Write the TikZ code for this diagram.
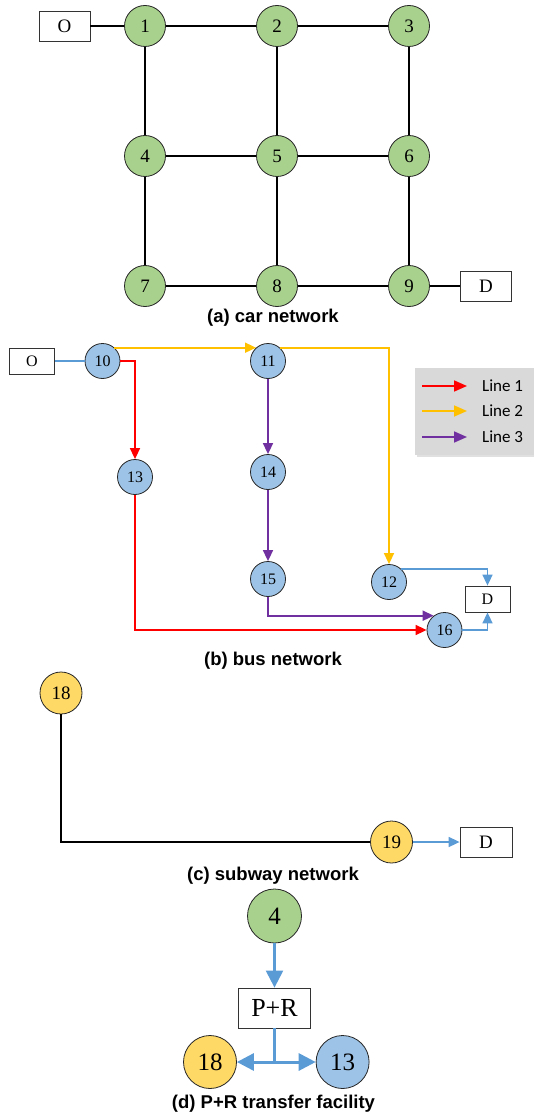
\documentclass[tikz,border=0pt]{standalone}
\usepackage{fontspec}
\setmainfont{Liberation Serif}
\newfontfamily\capfont{Liberation Sans}
\newfontfamily\legfont{Carlito}
\usetikzlibrary{arrows.meta}

\definecolor{cargreen}{HTML}{A9D18E}
\definecolor{busblue}{HTML}{9DC3E6}
\definecolor{subyellow}{HTML}{FFD966}
\definecolor{linkblue}{HTML}{5B9BD5}
\definecolor{lineone}{HTML}{FF0000}
\definecolor{linetwo}{HTML}{FFC000}
\definecolor{linethree}{HTML}{7030A0}
\definecolor{legendgray}{HTML}{D9D9D9}

\tikzset{
  station/.style={circle,draw=black!85,line width=0.8pt,inner sep=0pt},
  carstop/.style={station,fill=cargreen,minimum size=41pt,font=\fontsize{19}{19}\selectfont},
  busstop/.style={station,fill=busblue,minimum size=35pt,font=\fontsize{16}{16}\selectfont},
  substop/.style={station,fill=subyellow,minimum size=42pt,font=\fontsize{19}{19}\selectfont},
  bigstop/.style={station,minimum size=54pt,font=\fontsize{25}{25}\selectfont},
  endbox/.style={draw=black!80,line width=0.8pt,fill=white,inner sep=0pt,minimum width=51pt,minimum height=30pt,font=\fontsize{19}{19}\selectfont},
  road/.style={line width=1.6pt},
  arr/.style={-{Triangle[length=11pt,width=10pt]}},
  bigarr/.style={-{Triangle[length=17pt,width=17pt]}},
  figcap/.style={font=\capfont\bfseries\fontsize{18.5}{18.5}\selectfont}
}

\begin{document}
\begin{tikzpicture}[x=1pt,y=-1pt]
  \useasboundingbox (0,0) rectangle (534,1115);

  % (a) car network
  \foreach \n/\x/\y in {1/145/26,2/277/26,3/409/26,4/145/156,5/277/156,6/409/156,7/145/286,8/277/286,9/409/286}
    \node[carstop] (c\n) at (\x,\y) {\n};
  \node[endbox] (o1) at (64.5,26) {O};
  \node[endbox] (d1) at (486,286) {D};
  \foreach \a/\b in {1/2,2/3,4/5,5/6,7/8,8/9,1/4,4/7,2/5,5/8,3/6,6/9}
    \draw[road] (c\a) -- (c\b);
  \draw[road] (o1) -- (c1);
  \draw[road] (c9) -- (d1);
  \node[figcap] (capa) at (273,318) {(a) car network};

  % (b) bus network
  \node[endbox,minimum width=45pt,minimum height=26pt,font=\fontsize{16}{16}\selectfont] (o2) at (32,361) {O};
  \node[busstop] (b10) at (102.5,361) {10};
  \node[busstop] (b11) at (268,361) {11};
  \node[busstop] (b13) at (135,477) {13};
  \node[busstop] (b14) at (268,472) {14};
  \node[busstop] (b15) at (268,579) {15};
  \node[busstop] (b12) at (389,582) {12};
  \node[busstop] (b16) at (444.5,630) {16};
  \node[endbox,minimum width=45pt,minimum height=26pt,font=\fontsize{16}{16}\selectfont] (d2) at (487.5,599) {D};
  \draw[road,linkblue] (o2) -- (b10);
  \draw[road,linetwo,arr] (b10.48) -- (b11.132);
  \draw[road,linetwo,arr] (b11.48) -| (b12.north);
  \draw[road,lineone,arr] (b10.east) -| (b13.north);
  \draw[road,lineone,arr] (b13.south) |- (b16.west);
  \draw[road,linethree,arr] (b11) -- (b14);
  \draw[road,linethree,arr] (b14) -- (b15);
  \draw[road,linethree,arr] (b15.south) |- (b16.127);
  \draw[road,linkblue,arr] (b12.48) -| (d2.north);
  \draw[road,linkblue,arr] (b16.east) -| (d2.south);
  % legend
  \fill[black!12] (417,370) rectangle (536,457);
  \fill[legendgray] (415,368) rectangle (534,455);
  \foreach \c/\t/\y in {lineone/1/386,linetwo/2/411,linethree/3/437} {
    \draw[road,\c,-{Triangle[length=13pt,width=11pt]}] (422,\y) -- (467,\y);
    \node[anchor=west,font=\legfont\fontsize{17}{17}\selectfont,inner sep=0pt] (leg\t) at (482,\y) {Line \t};
  }
  \node[figcap] (capb) at (273,661) {(b) bus network};

  % (c) subway network
  \node[substop] (s18) at (61,693) {18};
  \node[substop] (s19) at (391.5,842) {19};
  \node[endbox,minimum width=52pt] (d3) at (486,842) {D};
  \draw[road] (s18.south) |- (s19.west);
  \draw[road,linkblue,arr] (s19) -- (d3);
  \node[figcap] (capc) at (273,876) {(c) subway network};

  % (d) P+R transfer facility
  \node[bigstop,fill=cargreen] (p4) at (274.5,916) {4};
  \node[endbox,minimum width=72pt,minimum height=40pt,font=\fontsize{26}{26}\selectfont] (pr) at (274.5,1008) {P+R};
  \node[bigstop,fill=subyellow,minimum size=53pt] (p18) at (210,1062) {18};
  \node[bigstop,fill=busblue,minimum size=53pt] (p13) at (342.6,1062) {13};
  \coordinate (split) at (274.5,1062);
  \draw[linkblue,line width=2.2pt,bigarr] (p4) -- (pr);
  \draw[linkblue,line width=2.5pt] (pr.south) -- (split);
  \draw[linkblue,line width=3pt,bigarr] (split) -- (p18);
  \draw[linkblue,line width=3pt,bigarr] (split) -- (p13);
  \node[figcap] (capd) at (273.5,1104) {(d) P+R transfer facility};
\end{tikzpicture}
\end{document}
